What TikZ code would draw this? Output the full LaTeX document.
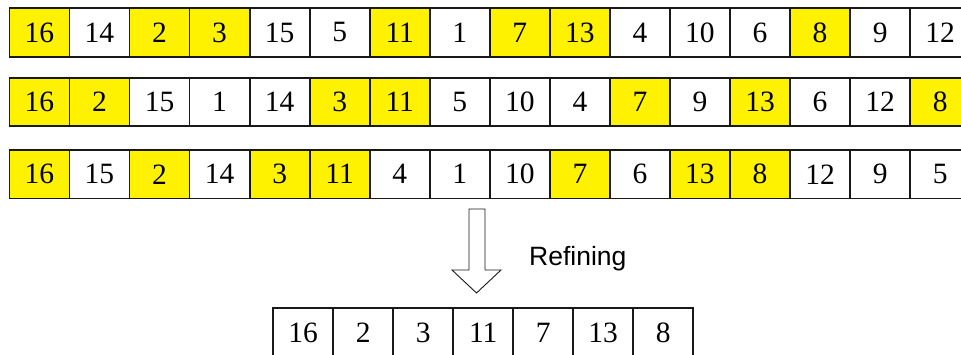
\documentclass[tikz,border=0pt]{standalone}
\usepackage{fontspec}
\newfontfamily\cellfont{Liberation Serif}
\newfontfamily\labelfont{Liberation Sans}
% Y marks a highlighted entry, W a plain one
\colorlet{Y}{yellow}
\colorlet{W}{white}
\begin{document}
\begin{tikzpicture}[x=1pt,y=-1pt,
  cell/.style={draw=black!90, line width=1.8pt, fill=white, minimum width=60.05pt,
    minimum height=48.5pt, inner sep=0pt, anchor=north west,
    font=\cellfont\fontsize{29.5}{31}\selectfont},
  hollowarrow/.style={draw=black!90, line width=0.9pt, fill=white, line join=miter}]
\clip (0,0) rectangle (961,354);
\fill[white] (0,0) rectangle (961,354);

% three candidate orderings
\foreach \v/\h [count=\i] in {16/Y,14/W,2/Y,3/Y,15/W,5/W,11/Y,1/W,7/Y,13/Y,4/W,10/W,6/W,8/Y,9/W,12/W}
  \node[cell, fill=\h] (ra\i) at ({8.5+60.05*(\i-1)},7.3) {\v};
\foreach \v/\h [count=\i] in {16/Y,2/Y,15/W,1/W,14/W,3/Y,11/Y,5/W,10/W,4/W,7/Y,9/W,13/Y,6/W,12/W,8/Y}
  \node[cell, fill=\h] (rb\i) at ({8.5+60.05*(\i-1)},76.9) {\v};
\foreach \v/\h [count=\i] in {16/Y,15/W,2/Y,14/W,3/Y,11/Y,4/W,1/W,10/W,7/Y,6/W,13/Y,8/Y,12/W,9/W,5/W}
  \node[cell, fill=\h] (rc\i) at ({8.5+60.05*(\i-1)},149.1) {\v};

% refinement step
\draw[hollowarrow] (469,209) -- (485,209) -- (485,270) -- (501,270) -- (476.5,293)
  -- (452,270) -- (469,270) -- cycle;
\node[anchor=base west, inner sep=0pt, font=\labelfont\fontsize{26.5}{28}\selectfont]
  (reflabel) at (529,265) {Refining};

% refined result
\foreach \v [count=\i] in {16,2,3,11,7,13,8}
  \node[cell] (rd\i) at ({272.3+60*(\i-1)},307.3) {\v};
\end{tikzpicture}
\end{document}
